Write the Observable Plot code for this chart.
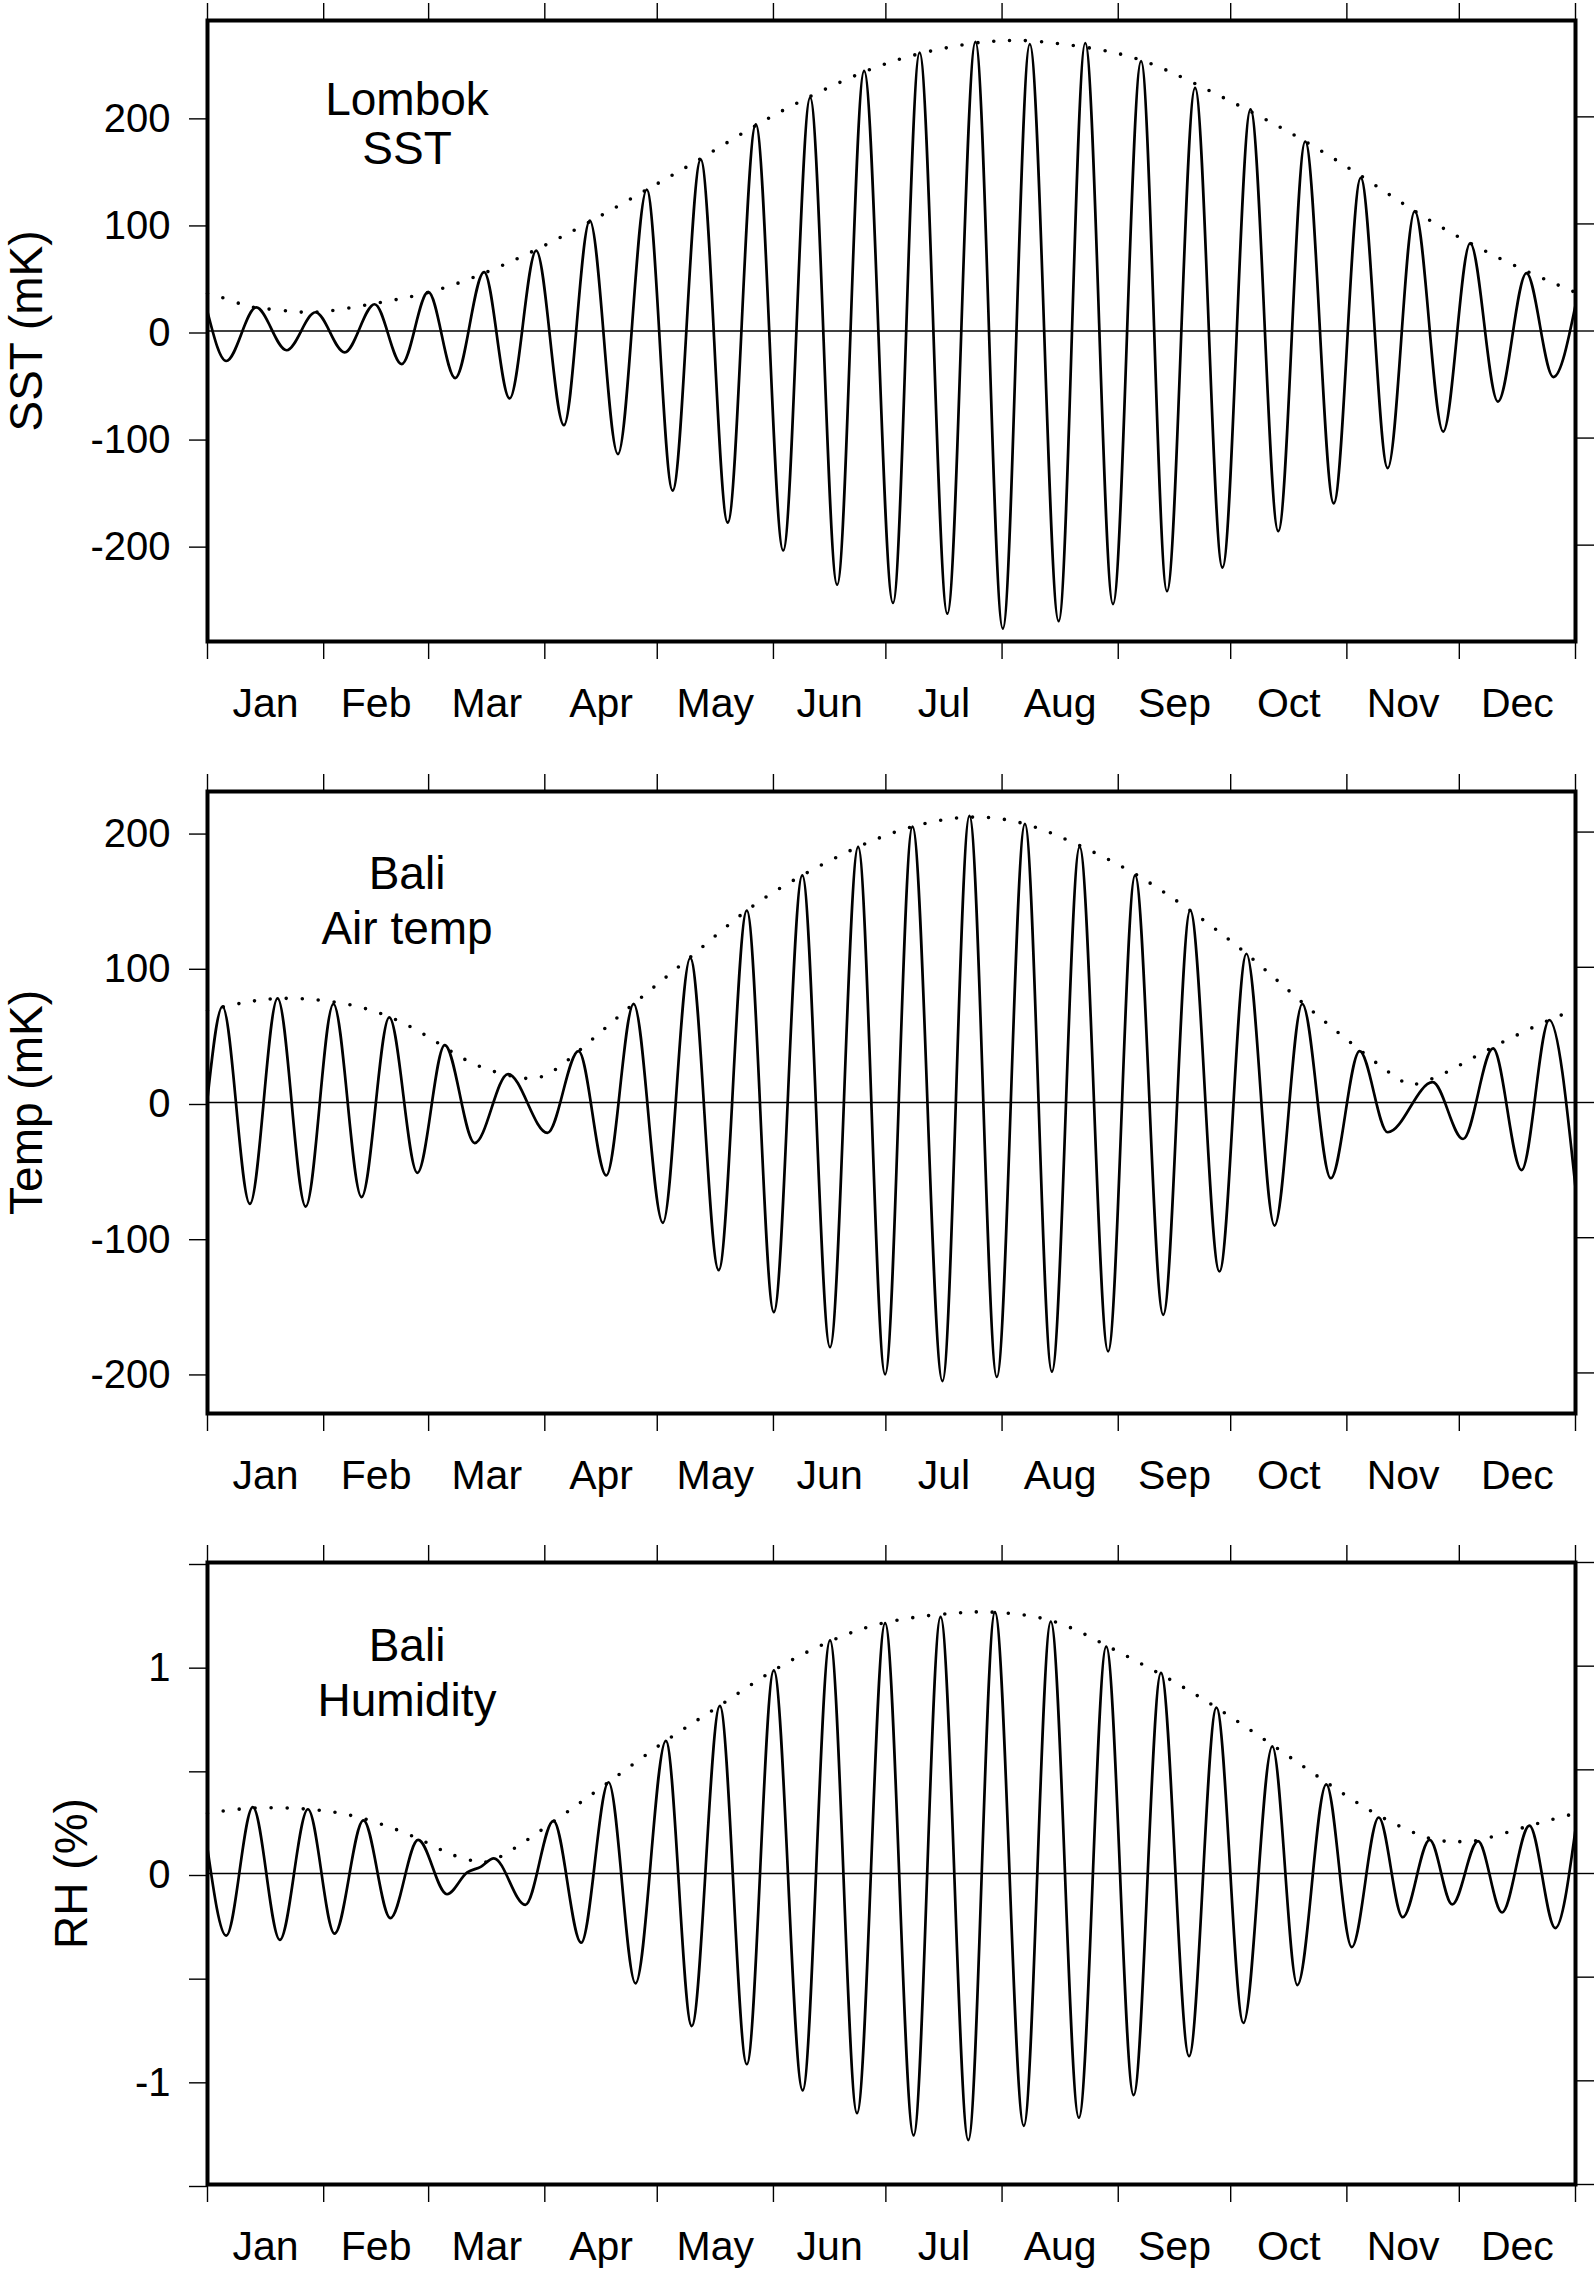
<!DOCTYPE html>
<html>
<head>
<meta charset="utf-8">
<script src="https://cdn.jsdelivr.net/npm/d3@7"></script>
<script src="https://cdn.jsdelivr.net/npm/@observablehq/plot@0.6"></script>
<style>
  html, body { margin: 0; padding: 0; background: #fff; overflow: hidden; }
  #chart svg { display: block; }
</style>
</head>
<body>
<div id="chart"></div>
<script>
// ---- Tick labels / categories ----
const monthNames = ["Jan","Feb","Mar","Apr","May","Jun","Jul","Aug","Sep","Oct","Nov","Dec"];
const monthStartDays = [0,31,59,90,120,151,181,212,243,273,304,334,365];

// ---- Panel 1: Lombok SST (mK) — [day of year, value] at turning points ----
const sstLine = [[0,18],[5,-28],[13,22],[21.1,-18],[28.8,17.5],[36.6,-20],[44.6,25],[51.8,-31],[58.9,36.5],[66.1,-44],[73.8,55],[80.6,-63],[87.7,75],[95.1,-88],[102,103],[109.5,-115],[117.2,132],[124.1,-149],[131.6,160],[138.8,-179],[146.3,193],[153.6,-205],[160.8,218],[168,-237],[175.2,243],[182.9,-254],[190,260],[197.4,-264],[204.9,270],[212.2,-278],[219.4,268],[227.1,-271],[234.2,269],[241.6,-255],[249.1,252],[256,-243],[263.5,227],[270.8,-221],[278.3,207],[285.7,-187],[292.9,177],[300.5,-161],[307.7,143],[314.9,-128],[322.1,112],[329.7,-94],[336.9,82],[344.3,-66],[351.9,54],[359.1,-43],[365,24]];
const sstEnvelope = [[0,35],[5,30],[10,24],[15,21],[22,18.5],[28,17.5],[35,20],[45,26],[58.9,36],[73.8,54],[87.7,76],[102,102],[117.2,132],[131.6,161],[146.3,192],[160.8,219],[175.2,242],[190,259],[204.9,269],[212,271],[219.4,271],[234.2,265],[249.1,253],[263.5,231],[278.3,205],[292.9,177],[307.7,145],[322.1,112],[336.9,82],[351.9,56],[365,36]];
const sstTicks = [-200,-100,0,100,200];

// ---- Panel 2: Bali air temperature (mK) ----
const airLine = [[0,3],[4,71],[11.3,-75],[18.7,77],[26.2,-77],[33.6,73],[41.1,-70],[48.5,63],[56,-52],[63.3,42.5],[71.3,-30],[80.2,21],[90.7,-22.5],[99,38],[106.4,-54],[113.7,73],[121.5,-89],[128.8,107],[136.4,-124],[143.9,142],[151.1,-155],[158.7,168],[166.1,-181],[173.6,189],[180.8,-201],[188.1,204],[196.1,-206],[203.3,212],[210.6,-203],[218.1,206],[225.3,-199],[232.7,189],[240.3,-184],[247.5,168],[255,-157],[262.2,142],[270,-125],[277.2,110],[284.7,-91],[292.1,73],[299.7,-56],[307.4,38],[314.9,-22],[326.9,15],[335,-27],[343,40],[350.6,-50],[358,61],[365,-63]];
const airEnvelope = [[0,68],[10,74],[20,77],[32,75],[45,67],[58,50],[70,30],[82,19],[90,20],[99,38],[113.7,73],[128.6,107],[143.9,142],[158.7,168],[173.6,189],[188.1,204],[203.3,211],[218.1,206],[232.7,190],[247.5,169],[262.2,142],[277.2,110],[292.1,74],[307.4,39],[318,17],[323,14],[331,23],[343,41],[358,61],[365,68]];
const airTicks = [-200,-100,0,100,200];

// ---- Panel 3: Bali relative humidity (%) ----
const rhLine = [[0,0.12],[5,-0.30],[12.1,0.32],[19.3,-0.32],[26.8,0.31],[33.9,-0.29],[41.6,0.256],[48.8,-0.215],[56.2,0.162],[63.9,-0.10],[69.3,0.005],[72.9,0.032],[76.4,0.073],[84.8,-0.151],[92.3,0.254],[99.7,-0.334],[107,0.44],[114.2,-0.53],[122.3,0.64],[129.2,-0.736],[136.7,0.808],[143.9,-0.92],[151.1,0.98],[158.8,-1.046],[166.1,1.124],[173.3,-1.156],[180.8,1.208],[188.4,-1.263],[195.6,1.238],[203,-1.286],[210.1,1.261],[217.8,-1.217],[225,1.215],[232.5,-1.178],[239.8,1.094],[247.1,-1.069],[254.4,0.968],[261.9,-0.881],[269.2,0.80],[276.4,-0.721],[284.1,0.613],[290.8,-0.538],[298.5,0.43],[305.3,-0.355],[312.5,0.27],[318.9,-0.211],[326.1,0.162],[332.1,-0.149],[339,0.156],[345.4,-0.188],[352.7,0.231],[359.6,-0.263],[365,0.213]];
const rhEnvelope = [[0,0.29],[12,0.315],[27,0.31],[41.6,0.265],[56,0.17],[64,0.10],[71,0.06],[78,0.08],[92.3,0.25],[107,0.44],[122.3,0.64],[136.7,0.81],[151.1,0.98],[166.1,1.12],[180.8,1.21],[195.6,1.25],[203,1.26],[210.1,1.26],[225,1.22],[239.8,1.1],[254.4,0.96],[269.2,0.80],[284.1,0.62],[298.5,0.44],[312.5,0.28],[326,0.17],[333,0.155],[339,0.16],[352.7,0.23],[365,0.29]];
const rhTicks = [-1.5,-1,-0.5,0,0.5,1,1.5];
const rhLabeled = [-1,0,1];

// ---- Panel texts ----
const titles = ["Lombok\nSST", "Bali\nAir temp", "Bali\nHumidity"];
const yLabels = ["SST (mK)", "Temp (mK)", "RH (%)"];

const months = monthNames.map((name, i) => ({name, mid: (monthStartDays[i] + monthStartDays[i + 1]) / 2}));
const FONT = "'Liberation Sans', Arial, Helvetica, sans-serif";

function panel({line, env, domain, ticks, labeled, title, yLabel, height, mt, mb, titleDy, titleLH, labelDx}) {
  const fmt = d => (labeled.includes(d) ? String(d) : "");
  return Plot.plot({
    width: 1594,
    height,
    marginLeft: 207,
    marginRight: 19,
    marginTop: mt,
    marginBottom: mb,
    style: {fontFamily: FONT, fontSize: "40px", color: "black", background: "white"},
    x: {type: "linear", domain: [0, 365], axis: null},
    y: {domain, axis: null},
    marks: [
      Plot.ruleY([0], {stroke: "black", strokeWidth: 1.4}),
      Plot.line(line, {x: d => d[0], y: d => d[1], curve: "monotone-x", stroke: "black", strokeWidth: 2.7}),
      Plot.line(env, {x: d => d[0], y: d => d[1], curve: "natural", stroke: "black", strokeWidth: 3.6, strokeDasharray: "0 16", strokeLinecap: "round"}),
      Plot.frame({stroke: "black", strokeWidth: 4}),
      Plot.axisX({ticks: monthStartDays, anchor: "top", tickSize: 18, tickFormat: () => "", strokeWidth: 1.4, label: null}),
      Plot.axisX({ticks: monthStartDays, anchor: "bottom", tickSize: 18, tickFormat: () => "", strokeWidth: 1.4, label: null}),
      Plot.axisY({ticks, anchor: "left", tickSize: 18, tickPadding: 19, tickFormat: fmt, strokeWidth: 1.4, fontSize: 40, label: null, dy: 2}),
      Plot.axisY({ticks, anchor: "right", tickSize: 18, tickFormat: () => "", strokeWidth: 1.4, label: null}),
      Plot.text(months, {x: "mid", text: "name", frameAnchor: "bottom", dy: 62.5, lineAnchor: "middle", textAnchor: "middle", fontSize: 41}),
      Plot.text([title], {frameAnchor: "top-left", dx: 199.5, dy: titleDy, textAnchor: "middle", lineAnchor: "top", lineHeight: titleLH, fontSize: 46}),
      Plot.text([yLabel], {frameAnchor: "left", rotate: -90, dx: labelDx, textAnchor: "middle", lineAnchor: "middle", fontSize: 46})
    ]
  });
}

const root = document.getElementById("chart");
root.append(panel({line: sstLine, env: sstEnvelope, domain: [-290, 290], ticks: sstTicks, labeled: sstTicks,
  title: titles[0], yLabel: yLabels[0], height: 770, mt: 20, mb: 129, titleDy: 59.3, titleLH: 1.07, labelDx: -180}));
root.append(panel({line: airLine, env: airEnvelope, domain: [-230, 230], ticks: airTicks, labeled: airTicks,
  title: titles[1], yLabel: yLabels[1], height: 770, mt: 21, mb: 127, titleDy: 58.6, titleLH: 1.196, labelDx: -180}));
root.append(panel({line: rhLine, env: rhEnvelope, domain: [-1.5, 1.5], ticks: rhTicks, labeled: rhLabeled,
  title: titles[2], yLabel: yLabels[2], height: 734, mt: 22, mb: 90, titleDy: 59.6, titleLH: 1.2, labelDx: -135}));
</script>
</body>
</html>
